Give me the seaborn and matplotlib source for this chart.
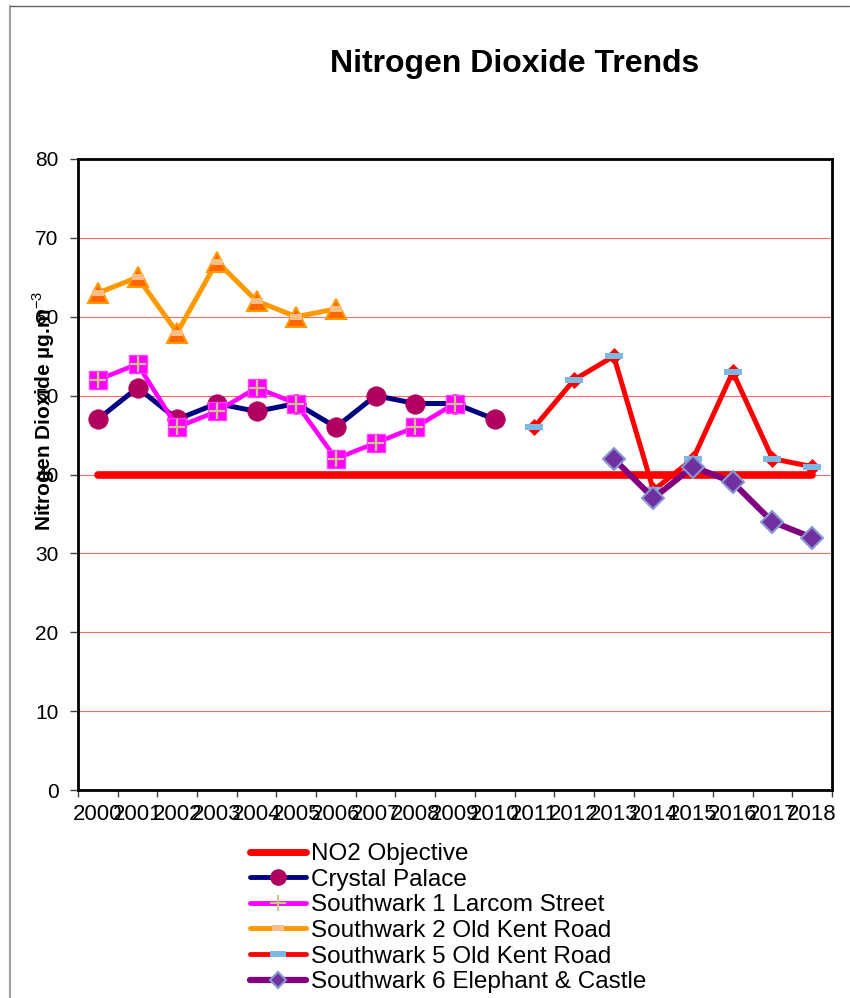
import seaborn as sns
import matplotlib.pyplot as plt
from matplotlib.lines import Line2D

# data (annual mean NO2, ug/m3)
years = list(range(2000, 2019))
no2_objective = [40, 40, 40, 40, 40, 40, 40, 40, 40, 40,
                 40, 40, 40, 40, 40, 40, 40, 40, 40]

cp_years = list(range(2000, 2011))
crystal_palace = [47, 51, 47, 49, 48, 49, 46, 50, 49, 49, 47]

s1_years = list(range(2000, 2010))
southwark1 = [52, 54, 46, 48, 51, 49, 42, 44, 46, 49]

s2_years = list(range(2000, 2007))
southwark2 = [63, 65, 58, 67, 62, 60, 61]

s5_years = list(range(2011, 2019))
southwark5 = [46, 52, 55, 38, 42, 53, 42, 41]

s6_years = list(range(2013, 2019))
southwark6 = [42, 37, 41, 39, 34, 32]

labels = ['NO2 Objective', 'Crystal Palace', 'Southwark 1 Larcom Street',
          'Southwark 2 Old Kent Road', 'Southwark 5 Old Kent Road',
          'Southwark 6 Elephant & Castle']

sns.set_theme(style='white')
plt.rcParams['font.family'] = ['Liberation Sans', 'DejaVu Sans']
plt.rcParams['text.color'] = 'black'
plt.rcParams['axes.labelcolor'] = 'black'
plt.rcParams['xtick.color'] = 'black'
plt.rcParams['ytick.color'] = 'black'
plt.rcParams['mathtext.fontset'] = 'custom'
plt.rcParams['mathtext.rm'] = 'Liberation Sans'
plt.rcParams['mathtext.bf'] = 'Liberation Sans:bold'

fig = plt.figure(figsize=(8.5, 9.98), dpi=100)
ax = fig.add_axes([78 / 850, 1 - 790 / 998, 754 / 850, 631 / 998])

# marker shapes: flat bars used by Excel for the Old Kent Road sites
bar_orange = [(-1, -0.55), (1, -0.55), (1, 0.55), (-1, 0.55), (-1, -0.55)]
bar_blue = [(-1, -0.32), (1, -0.32), (1, 0.32), (-1, 0.32), (-1, -0.32)]

line_kw = dict(errorbar=None, solid_capstyle='round', solid_joinstyle='round', ax=ax)
dot_kw = dict(errorbar=None, linestyle='none', ax=ax)

# NO2 objective
sns.lineplot(x=years, y=no2_objective, color='#ff0000', linewidth=5.5, **line_kw)

# Crystal Palace
sns.lineplot(x=cp_years, y=crystal_palace, color='#000080', linewidth=3.6,
             marker='o', markersize=14, markerfacecolor='#b00060',
             markeredgecolor='#b00060', markeredgewidth=0.5, **line_kw)

# Southwark 1
sns.lineplot(x=s1_years, y=southwark1, color='#ff00ff', linewidth=3.3,
             marker='s', markersize=13, markerfacecolor='#ff00ff',
             markeredgecolor='#ff40ff', markeredgewidth=1, **line_kw)
sns.lineplot(x=s1_years, y=southwark1, marker='+', markersize=12,
             markeredgecolor='#c8c884', markeredgewidth=1.6, **dot_kw)

# Southwark 2
sns.lineplot(x=s2_years, y=southwark2, color='#ff9900', linewidth=3.6,
             marker='^', markersize=14, markerfacecolor='#ff6600',
             markeredgecolor='#ff9900', markeredgewidth=1.5, **line_kw)
sns.lineplot(x=s2_years, y=southwark2, marker=bar_orange, markersize=8.5,
             markerfacecolor='#f8c088', markeredgewidth=0, **dot_kw)

# Southwark 5
sns.lineplot(x=s5_years, y=southwark5, color='#ff0000', linewidth=3.6,
             marker='D', markersize=8.5, markerfacecolor='#ff0000',
             markeredgecolor='#ff0000', markeredgewidth=0.5, **line_kw)
sns.lineplot(x=s5_years, y=southwark5, marker=bar_blue, markersize=13.5,
             markerfacecolor='#7cb8e4', markeredgewidth=0, **dot_kw)

# Southwark 6
sns.lineplot(x=s6_years, y=southwark6, color='#800080', linewidth=4.3,
             marker='D', markersize=11.5, markerfacecolor='#7030a0',
             markeredgecolor='#8898d0', markeredgewidth=1.5, **line_kw)

# axes
ax.set_xlim(1999.5, 2018.5)
ax.set_ylim(0, 80)
ax.set_xticks(years)
ax.set_xticklabels([str(y) for y in years])
ax.set_xticks([y - 0.5 for y in years] + [2018.5], minor=True)
ax.set_yticks(range(0, 81, 10))
ax.tick_params(axis='x', which='major', length=0, pad=10, labelsize=16,
               labelcolor='black')
ax.tick_params(axis='x', which='minor', length=5, width=1, color='#404040',
               direction='out', bottom=True)
ax.tick_params(axis='y', length=6, width=1, color='#404040', direction='out',
               left=True, pad=8, labelsize=15, labelcolor='black')
ax.yaxis.grid(True, color='#ff6a6a', linewidth=0.8)
ax.set_axisbelow(True)
for sp in ax.spines.values():
    sp.set_visible(True)
    sp.set_color('black')
    sp.set_linewidth(2)
ax.set_xlabel('')
ax.set_ylabel('Nitrogen Dioxide µg.m$^{-3}$', fontsize=15, fontweight='bold',
              va='center', color='black')
ax.yaxis.set_label_coords(-0.045, 0.6)

fig.text(0.605, 0.936, 'Nitrogen Dioxide Trends', ha='center', va='center',
         fontsize=23, fontweight='bold', color='black')

# legend
handles = [
    Line2D([], [], color='#ff0000', linewidth=5, solid_capstyle='round'),
    Line2D([], [], color='#000080', linewidth=3.5, solid_capstyle='round',
           marker='o', markersize=11, markerfacecolor='#b00060',
           markeredgecolor='#b00060'),
    Line2D([], [], color='#ff00ff', linewidth=3.5, solid_capstyle='round',
           marker='+', markersize=11, markeredgecolor='#c8c884',
           markeredgewidth=1.5),
    Line2D([], [], color='#ff9900', linewidth=3.5, solid_capstyle='round',
           marker=bar_orange, markersize=9, markerfacecolor='#f8c088',
           markeredgewidth=0),
    Line2D([], [], color='#ff0000', linewidth=3.5, solid_capstyle='round',
           marker=bar_blue, markersize=12, markerfacecolor='#7cb8e4',
           markeredgewidth=0),
    Line2D([], [], color='#800080', linewidth=4.5, solid_capstyle='round',
           marker='D', markersize=8, markerfacecolor='#7030a0',
           markeredgecolor='#8898d0', markeredgewidth=1.5),
]
leg = ax.legend(handles, labels, loc='upper left',
                bbox_to_anchor=(250 / 850, 1 - 843 / 998),
                bbox_transform=fig.transFigure, frameon=False, fontsize=17.5,
                handlelength=2.3, handletextpad=0.2, labelspacing=0.15,
                borderpad=0, borderaxespad=0)
for t in leg.get_texts():
    t.set_color('black')

# outer chart border (left and top only, as in the original)
fig.add_artist(Line2D([10 / 850, 10 / 850], [0, 1 - 6 / 998],
                      transform=fig.transFigure, color='#a0a0a0', linewidth=1.5))
fig.add_artist(Line2D([10 / 850, 849 / 850], [1 - 6 / 998, 1 - 6 / 998],
                      transform=fig.transFigure, color='#606060', linewidth=1))

fig.savefig('out.png', dpi=100)
